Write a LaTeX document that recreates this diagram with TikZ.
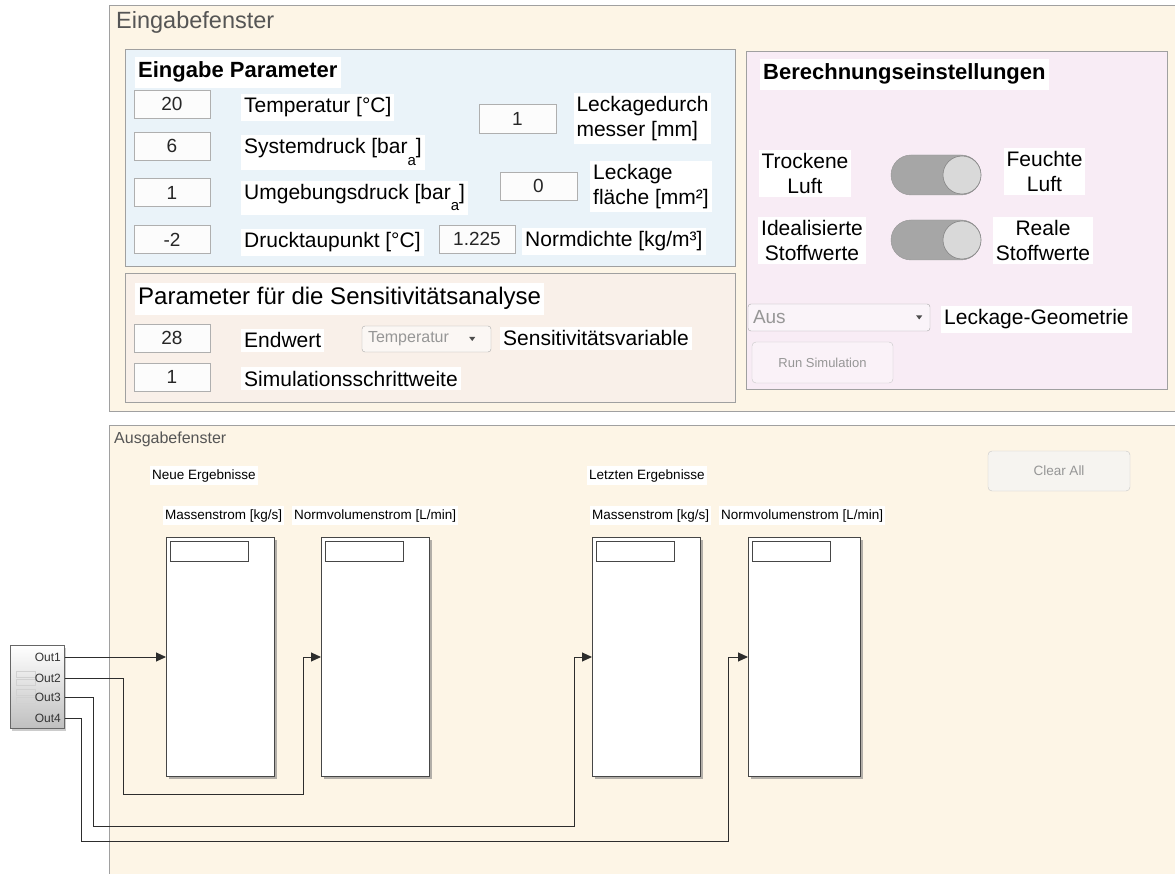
\documentclass[tikz,border=0pt]{standalone}
\usepackage{fontspec}
\setmainfont{Liberation Sans}
\usetikzlibrary{arrows.meta,calc,shadows}

\definecolor{cream}{RGB}{253,245,230}
\definecolor{paramblue}{RGB}{234,243,249}
\definecolor{sensbeige}{RGB}{249,240,233}
\definecolor{calcpink}{RGB}{248,236,245}
\definecolor{frame}{RGB}{160,160,160}
\definecolor{titlegray}{RGB}{85,85,85}
\definecolor{fieldline}{RGB}{175,175,175}
\definecolor{fieldfill}{RGB}{252,252,252}
\definecolor{pillgray}{RGB}{166,166,166}
\definecolor{knobgray}{RGB}{217,217,217}
\definecolor{wiregray}{RGB}{45,45,45}
\definecolor{scopeline}{RGB}{70,70,70}
\definecolor{btnline}{RGB}{200,200,200}
\definecolor{dimtext}{RGB}{150,150,150}

\newcommand{\fs}[1]{\fontsize{#1}{#1}\selectfont}

\begin{document}
\begin{tikzpicture}[x=1pt,y=-1pt,
  panel/.style={draw=frame, line width=0.9pt},
  lbl/.style={fill=white, inner xsep=3pt, inner ysep=4pt, anchor=base west,
              font=\fs{21}},
  lbltwo/.style={fill=white, inner xsep=3pt, inner ysep=3pt, font=\fontsize{21}{25}\selectfont},
  fld/.style={draw=fieldline, fill=fieldfill, inner sep=0pt, font=\fs{19},
              text=black!85},
  headbold/.style={fill=white, inner xsep=3pt, inner ysep=5pt, anchor=base west,
              font=\bfseries\fs{22}},
  small/.style={fill=white, inner xsep=2pt, inner ysep=3pt, anchor=base west,
              font=\fs{13.5}},
  pill/.style={fill=pillgray, draw=pillgray!90!black, rounded corners=20pt,
              minimum width=90pt, minimum height=40pt, inner sep=0pt},
  knob/.style={circle, fill=knobgray, draw=pillgray!80!black, line width=0.6pt,
              minimum size=38pt, inner sep=0pt},
  button/.style={draw=btnline, rounded corners=4pt, inner sep=0pt, text=dimtext},
  drop/.style={draw=btnline!85!black, rounded corners=3pt, inner sep=0pt},
  scopebox/.style={draw=scopeline, line width=1.4pt, fill=white,
              minimum width=108pt, minimum height=239pt, anchor=north west,
              inner sep=0pt,
              drop shadow={shadow xshift=2.5pt, shadow yshift=-2.5pt, opacity=0.6}},
  scopetitle/.style={draw=scopeline, line width=0.9pt, fill=white,
              minimum width=78pt, minimum height=20pt, anchor=north west, inner sep=0pt},
  wire/.style={draw=wiregray, line width=1pt},
  tip/.style={-{Triangle[length=10pt,width=9pt]}},
  port/.style={anchor=east, inner sep=0pt, font=\fs{12}, text=black!80},
]
\useasboundingbox (0,0) rectangle (1175,874);
\clip (0,0) rectangle (1175,874);
\fill[white] (0,0) rectangle (1175,874);

% ---------------- input window ----------------
\draw[panel, fill=cream] (109,5) rectangle (1195,411);
\node[anchor=base west, inner sep=0pt, text=titlegray, font=\fs{23.5}] (tin) at (116,29) {Eingabefenster};

% input parameters
\draw[panel, fill=paramblue] (125,49) rectangle (735,266);
\node[headbold] (hpar) at (135,78) {Eingabe Parameter};

\node[fld, minimum width=76pt, minimum height=28pt] (fT)  at (172,104) {20};
\node[fld, minimum width=76pt, minimum height=28pt] (fp)  at (172,146) {6};
\node[fld, minimum width=76pt, minimum height=28pt] (fu)  at (172,192.5) {1};
\node[fld, minimum width=76pt, minimum height=28pt] (ftp) at (172,239.5) {-2};
\node[fld, minimum width=77pt, minimum height=29pt] (fd)  at (517.5,118.5) {1};
\node[fld, minimum width=77pt, minimum height=28pt] (fA)  at (538.5,186) {0};
\node[fld, minimum width=76pt, minimum height=28pt] (fn)  at (477,239) {1.225};

\node[lbl] (lT)  at (241,113) {Temperatur [°C]};
\node[lbl] (lp)  at (241,154) {Systemdruck [bar\raisebox{-12pt}{\fs{15}a}]};
\node[lbl] (lu)  at (241,200) {Umgebungsdruck [bar\raisebox{-11pt}{\fs{15}a}]};
\node[lbl] (ltp) at (241,248) {Drucktaupunkt [°C]};
\node[lbl] (ln)  at (522,247) {Normdichte [kg/m³]};
\node[lbltwo, align=left] (ld) at (642.5,118.5) {Leckagedurch\\messer [mm]};
\node[lbltwo, align=left] (lA) at (651,186.5) {Leckage\\fläche [mm²]};

% sensitivity analysis
\draw[panel, fill=sensbeige] (125,273) rectangle (735,402);
\node[fill=white, inner xsep=3pt, inner ysep=5pt, anchor=base west, font=\fs{24}] (hsens)
  at (135,305) {Parameter für die Sensitivitätsanalyse};
\node[fld, minimum width=76pt, minimum height=28pt] (fend)  at (172,338) {28};
\node[fld, minimum width=76pt, minimum height=28pt] (fstep) at (172,377) {1};
\node[lbl] (lend)  at (241,348) {Endwert};
\node[lbl] (lstep) at (241,386) {Simulationsschrittweite};
\node[drop, fill=fieldfill!60!sensbeige, minimum width=129pt, minimum height=26pt] (dvar) at (426.5,339) {};
\node[anchor=west, inner sep=0pt, font=\fs{16}, text=dimtext] (tvar) at ($(dvar.west)+(6,0)$) {Temperatur};
\fill[black!70] ($(dvar.east)+(-22,-2)$) -- ($(dvar.east)+(-16,-2)$) -- ($(dvar.east)+(-19,2)$) -- cycle;
\node[lbl] (lvar) at (500,346) {Sensitivitätsvariable};

% calculation settings
\draw[panel, fill=calcpink] (746,51) rectangle (1167,389);
\node[headbold] (hcalc) at (760,80) {Berechnungseinstellungen};

\node[lbltwo, align=center] (ltr) at (805,173.5) {Trockene\\Luft};
\node[lbltwo, align=center] (lfe) at (1044.5,171.5) {Feuchte\\Luft};
\node[lbltwo, align=center] (lid) at (812,240.5) {Idealisierte\\Stoffwerte};
\node[lbltwo, align=center] (lre) at (1043,240.5) {Reale\\Stoffwerte};

\node[pill] (sw1) at (936,175) {};
\node[knob] (k1) at (962,175) {};
\node[pill] (sw2) at (936,240) {};
\node[knob] (k2) at (962,240) {};

\node[drop, fill=fieldfill!50!calcpink, minimum width=182pt, minimum height=27pt] (dgeo) at (839,317.5) {};
\node[anchor=west, inner sep=0pt, font=\fs{19}, text=dimtext] (tgeo) at ($(dgeo.west)+(5,0)$) {Aus};
\fill[black!70] ($(dgeo.east)+(-14,-2)$) -- ($(dgeo.east)+(-8,-2)$) -- ($(dgeo.east)+(-11,2)$) -- cycle;
\node[lbl] (lgeo) at (941,325) {Leckage-Geometrie};

\node[button, fill=calcpink!70!white, minimum width=141pt, minimum height=41pt, font=\fs{13}] (brun) at (822.5,362.5) {Run Simulation};

% ---------------- output window ----------------
\draw[panel, fill=cream] (109,425) rectangle (1195,890);
\node[anchor=base west, inner sep=0pt, text=titlegray, font=\fs{16}] (tout) at (114,443) {Ausgabefenster};

\node[small] (hnew) at (150,479) {Neue Ergebnisse};
\node[small] (hold) at (587,479) {Letzten Ergebnisse};
\node[small] (m1) at (163,519) {Massenstrom [kg/s]};
\node[small] (v1) at (292,519) {Normvolumenstrom [L/min]};
\node[small] (m2) at (590,519) {Massenstrom [kg/s]};
\node[small] (v2) at (719,519) {Normvolumenstrom [L/min]};

\node[button, fill=cream!60!btnline!40, minimum width=142pt, minimum height=40pt, font=\fs{13.5}] (bclr) at (1059,471) {Clear All};

% scopes
\node[scopebox] (s1) at (166,537) {};
\node[scopebox] (s2) at (321,537) {};
\node[scopebox] (s3) at (592,537) {};
\node[scopebox, minimum width=112pt] (s4) at (748,537) {};
\foreach \s in {s1,s2,s3,s4}
  \node[scopetitle] at ($(\s.north west)+(4,4)$) {};

% output block
\node[draw=black!60, line width=0.8pt, top color=white, bottom color=black!25,
      minimum width=54pt, minimum height=83pt, anchor=north west, inner sep=0pt,
      drop shadow={shadow xshift=2pt, shadow yshift=-3pt, opacity=0.4}] (ob) at (10,645) {};
\foreach \y in {671,679,689,697}
  \draw[black!18, line width=0.5pt] (16,\y) rectangle (35,\y+6);
\node[port] (p1) at (61,657) {Out1};
\node[port] (p2) at (61,678) {Out2};
\node[port] (p3) at (61,697) {Out3};
\node[port] (p4) at (61,718) {Out4};
\coordinate (o1) at (ob.east |- p1);
\coordinate (o2) at (ob.east |- p2);
\coordinate (o3) at (ob.east |- p3);
\coordinate (o4) at (ob.east |- p4);

% signal lines
\draw[wire, tip] (o1) -- (s1.west |- o1);
\draw[wire, tip] (o2) -| (123,794) -| (303,657) -- (s2.west |- o1);
\draw[wire, tip] (o3) -| (93,826) -| (574,657) -- (s3.west |- o1);
\draw[wire, tip] (o4) -| (81,841) -| (728,657) -- (s4.west |- o1);
\end{tikzpicture}
\end{document}
